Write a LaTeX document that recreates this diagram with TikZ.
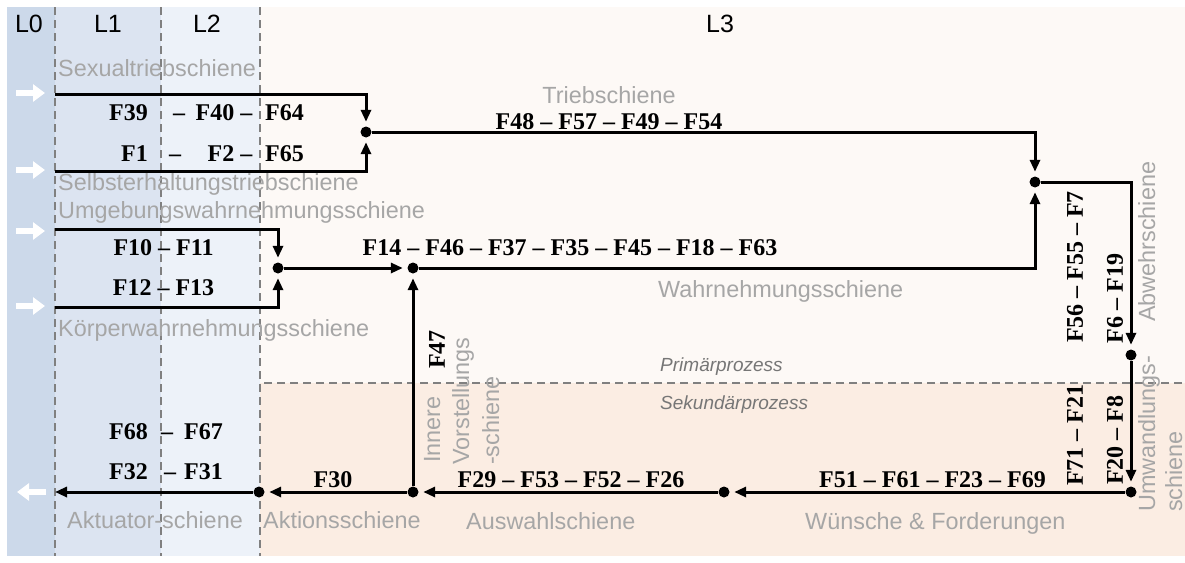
\documentclass[tikz,border=0pt]{standalone}
\usepackage{fontspec}
\setmainfont{Liberation Serif}
\setsansfont{Liberation Sans}
\usetikzlibrary{arrows.meta}
\definecolor{czero}{RGB}{204,217,234}
\definecolor{cone}{RGB}{220,228,241}
\definecolor{ctwo}{RGB}{237,242,249}
\definecolor{cup}{RGB}{253,249,246}
\definecolor{clow}{RGB}{251,237,227}
\definecolor{sepgray}{RGB}{128,128,128}
\definecolor{labgray}{RGB}{166,166,166}
\definecolor{itgray}{RGB}{118,118,118}
\begin{document}
\begin{tikzpicture}[x=1pt,y=-1pt]
\tikzset{
 fl/.style={font=\fontsize{24}{28}\selectfont\bfseries, inner sep=0pt, text=black},
 gl/.style={font=\sffamily\fontsize{23.4}{28}\selectfont, text=labgray, inner sep=0pt},
 il/.style={font=\sffamily\itshape\fontsize{19}{23}\selectfont, text=itgray, inner sep=0pt},
 hd/.style={font=\sffamily\fontsize{25}{28}\selectfont, inner sep=0pt, text=black},
 dot/.style={circle, fill=black, minimum size=11pt, inner sep=0pt},
 conn/.style={line width=3pt, -{Triangle[length=12pt,width=10pt]}, shorten >=4.5pt},
 sepline/.style={draw=sepgray, line width=2pt, dash pattern=on 8pt off 5pt},
 wa/.style={white, line width=6pt, -{Triangle[length=12pt,width=17pt]}},
}
\useasboundingbox (0,0) rectangle (1185,562);
% backgrounds
\fill[czero] (7,7) rectangle (55,556);
\fill[cone] (55,7) rectangle (161,556);
\fill[ctwo] (161,7) rectangle (260,556);
\fill[cup] (260,7) rectangle (1185,383);
\fill[clow] (260,383) rectangle (1185,556);
% separators
\draw[sepline] (55,7) -- (55,556);
\draw[sepline] (161,7) -- (161,556);
\draw[sepline] (260,7) -- (260,556);
\draw[sepline] (264,383) -- (1185,383);
% headings
\node[hd, anchor=base] (h0) at (29,32) {L0};
\node[hd, anchor=base] (h1) at (108,32) {L1};
\node[hd, anchor=base] (h2) at (207,32) {L2};
\node[hd, anchor=base] (h3) at (720,32) {L3};
% white arrows
\draw[wa] (16,93) -- (45,93);
\draw[wa] (16,170) -- (45,170);
\draw[wa] (16,231) -- (45,231);
\draw[wa] (16,306) -- (45,306);
\draw[wa] (46,492) -- (17,492);
% junctions
\node[dot] (j1) at (366,132) {};
\node[dot] (j2) at (1035,182) {};
\node[dot] (j3) at (1131,355) {};
\node[dot] (j4) at (1131,492) {};
\node[dot] (j5) at (724,492) {};
\node[dot] (j6) at (413,492) {};
\node[dot] (j7) at (259,492) {};
\node[dot] (j8) at (413,268) {};
\node[dot] (j9) at (278,268) {};
\coordinate (s1) at (55,94);
\coordinate (s2) at (55,171);
\coordinate (u1) at (55,229);
\coordinate (u2) at (55,307);
\coordinate (out) at (55,492);
% connectors
\draw[conn] (s1) -| (j1);
\draw[conn] (s2) -| (j1);
\draw[conn] (j1) -| (j2);
\draw[conn] (j8) -| (j2);
\draw[conn] (j2) -| (j3);
\draw[conn] (j3) -- (j4);
\draw[conn] (j4) -- (j5);
\draw[conn] (j5) -- (j6);
\draw[conn] (j6) -- (j7);
\draw[conn, shorten >=0pt] (j7) -- (out);
\draw[conn] (j6) -- (j8);
\draw[conn] (u1) -| (j9);
\draw[conn] (u2) -| (j9);
\draw[conn] (j9) -- (j8);
% bold labels
\node[fl, anchor=base east] (f39) at (148,120) {F39};
\node[fl, anchor=base] (d39) at (179,120) {–};
\node[fl, anchor=base] (f40) at (224,120) {F40 –};
\node[fl, anchor=base west] (f64) at (265,120) {F64};
\node[fl, anchor=base east] (f1) at (148,161) {F1};
\node[fl, anchor=base] (d1) at (175,161) {–};
\node[fl, anchor=base] (f2) at (230,161) {F2 –};
\node[fl, anchor=base west] (f65) at (265,161) {F65};
\node[fl, anchor=base] (f10) at (163.5,255) {F10 – F11};
\node[fl, anchor=base] (f12) at (163.5,295) {F12 – F13};
\node[fl, anchor=base] (f48) at (609,129) {F48 – F57 – F49 – F54};
\node[fl, anchor=base] (f14) at (570,255) {F14 – F46 – F37 – F35 – F45 – F18 – F63};
\node[fl, anchor=base] (f68) at (128.5,439) {F68};
\node[fl, anchor=base] (d68) at (167,439) {–};
\node[fl, anchor=base] (f67) at (203.5,439) {F67};
\node[fl, anchor=base] (f32) at (128.5,479) {F32};
\node[fl, anchor=base] (d32) at (170,479) {–};
\node[fl, anchor=base] (f31) at (203.5,479) {F31};
\node[fl, anchor=base] (f30) at (333,487) {F30};
\node[fl, anchor=base] (f29) at (571,487) {F29 – F53 – F52 – F26};
\node[fl, anchor=base] (f51) at (932.5,487) {F51 – F61 – F23 – F69};
\node[fl, rotate=90] (v1) at (1075,267) {F56 – F55 – F7};
\node[fl, rotate=90] (v2) at (1115,298.5) {F6 – F19};
\node[fl, rotate=90] (v3) at (1075,435) {F71 – F21};
\node[fl, rotate=90] (v4) at (1115,440) {F20 – F8};
\node[fl, rotate=90] (f47) at (437,349.5) {F47};
% gray labels
\node[gl, anchor=base west] (sex) at (58,76) {Sexualtriebschiene};
\node[gl, anchor=base west] (selb) at (58,190) {Selbsterhaltungstriebschiene};
\node[gl, anchor=base west] (umg) at (58,218) {Umgebungswahrnehmungsschiene};
\node[gl, anchor=base west] (koerp) at (58,336) {Körperwahrnehmungsschiene};
\node[gl, anchor=base] (trieb) at (609,103) {Triebschiene};
\node[gl, anchor=base west] (wahr) at (658,297) {Wahrnehmungsschiene};
\node[gl, anchor=base west] (akt) at (67,528) {Aktuator-schiene};
\node[gl, anchor=base west] (aktion) at (263,528) {Aktionsschiene};
\node[gl, anchor=base west] (ausw) at (466,529) {Auswahlschiene};
\node[gl, anchor=base west] (wuen) at (805,529) {Wünsche \& Forderungen};
\node[il, anchor=base west] (prim) at (660,371) {Primärprozess};
\node[il, anchor=base west] (sek) at (660,409) {Sekundärprozess};
\node[gl, rotate=90, anchor=base west] (abw) at (1155,322) {Abwehrschiene};
\node[gl, rotate=90, anchor=base west] (umw) at (1155,512) {Umwandlungs-};
\node[gl, rotate=90, anchor=base west] (umw2) at (1182,512) {schiene};
\node[gl, rotate=90, anchor=base west] (inn) at (440,463) {Innere};
\node[gl, rotate=90, anchor=base west] (vor) at (469,465) {Vorstellungs};
\node[gl, rotate=90, anchor=base west] (vor2) at (499,465) {-schiene};
\end{tikzpicture}
\end{document}
